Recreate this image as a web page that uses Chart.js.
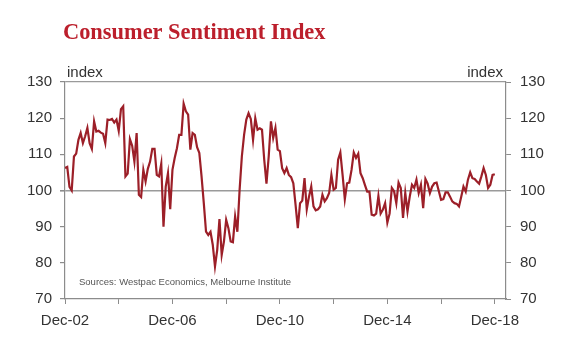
<!DOCTYPE html>
<html>
<head>
<meta charset="utf-8">
<script src="https://cdn.jsdelivr.net/npm/chart.js@4.4.1/dist/chart.umd.min.js"></script>
<style>
html,body{margin:0;padding:0;background:#fff;}
#wrap{width:580px;height:352px;}
</style>
</head>
<body>
<div id="wrap"><canvas id="c" width="580" height="352"></canvas></div>
<script>
// Monthly index, Dec-02 (index 0) to Dec-18 (index 192)
const sentiment = [
106.2,106.5,101.0,100.0,109.4,110.2,114.0,115.9,113.1,115.0,117.3,113.1,
111.5,119.1,116.3,116.5,116.0,115.7,113.1,119.6,119.5,119.8,118.8,119.6,
116.5,122.5,123.3,103.9,104.7,114.2,112.4,108.0,115.9,98.8,98.2,105.7,
102.5,106.0,108.0,111.5,111.5,104.3,103.9,107.4,90.0,101.1,104.8,94.8,
105.7,109.0,111.7,115.4,115.4,124.0,121.9,121.0,111.3,115.9,115.4,112.0,
110.4,103.9,96.5,88.6,87.7,88.6,85.0,79.0,83.6,92.1,82.2,85.9,
91.9,89.6,85.9,85.7,92.8,88.6,100.2,109.4,115.4,119.6,121.4,119.8,
114.0,120.0,116.8,117.2,116.8,108.5,101.9,109.4,119.1,114.5,117.3,111.3,
110.9,106.2,104.8,106.2,104.3,103.7,102.0,96.0,89.6,96.5,97.2,103.4,
94.8,98.3,101.1,95.6,94.5,94.8,95.6,98.8,97.0,97.9,99.3,104.3,
100.2,100.7,108.5,110.5,104.3,97.6,102.0,102.2,105.7,110.5,109.0,110.2,
104.8,103.4,101.5,99.7,99.7,93.3,93.1,93.6,98.5,93.6,94.7,96.5,
91.1,93.6,100.7,99.8,96.5,102.2,100.7,92.4,99.3,94.2,98.3,101.6,
100.7,103.0,99.3,101.6,95.1,103.2,101.9,99.3,101.1,102.0,102.2,99.8,
97.4,97.6,99.5,99.5,98.3,97.0,96.5,96.3,95.6,98.3,101.1,99.7,
103.0,105.0,103.4,103.2,102.5,101.9,103.9,106.2,104.3,100.7,101.6,104.3,
104.5
];
const tickLabels = ['Dec-02','Dec-06','Dec-10','Dec-14','Dec-18'];
const yTicks = [70,80,90,100,110,120,130];
const titleText = 'Consumer Sentiment Index';
const axisUnit = 'index';
const sourceText = 'Sources: Westpac Economics, Melbourne Institute';

const points = sentiment.map((v,i)=>({x:i,y:v}));
const FONT = '"Liberation Sans", Arial, sans-serif';
const GRAY = '#8c8c8c';
const TXT = '#333333';

const textPlugin = {
  id:'texts',
  afterDraw(chart){
    const ctx = chart.ctx, a = chart.chartArea;
    ctx.save();
    ctx.fillStyle = '#BC1F2C';
    ctx.font = 'bold 22.4px "Liberation Serif", "Times New Roman", serif';
    ctx.textBaseline = 'alphabetic';
    ctx.textAlign = 'left';
    ctx.fillText(titleText, 63, 39);
    ctx.fillStyle = TXT;
    ctx.font = '15px ' + FONT;
    ctx.textBaseline = 'bottom';
    ctx.textAlign = 'left';
    ctx.fillText(axisUnit, a.left + 2, a.top - 2);
    ctx.textAlign = 'right';
    ctx.fillText(axisUnit, a.right - 3, a.top - 2);
    ctx.fillStyle = '#555';
    ctx.font = '9.5px ' + FONT;
    ctx.textAlign = 'left';
    ctx.textBaseline = 'middle';
    ctx.fillText(sourceText, 79, 282);
    ctx.restore();
  }
};

new Chart(document.getElementById('c'), {
  type:'line',
  data:{datasets:[{
    data:points,
    borderColor:'#9C1F28',
    borderWidth:2.2,
    pointRadius:0,
    tension:0,
    fill:false,
    yAxisID:'y'
  },{
    data:points,
    borderColor:'rgba(0,0,0,0)',
    borderWidth:0,
    pointRadius:0,
    yAxisID:'y2'
  }]},
  options:{
    responsive:false,
    animation:false,
    events:[],
    layout:{padding:{top:82,left:0,right:0,bottom:0}},
    plugins:{legend:{display:false},tooltip:{enabled:false},title:{display:false}},
    scales:{
      x:{
        type:'linear', min:0, max:197,
        afterBuildTicks(ax){ ax.ticks = [0,24,48,72,96,120,144,168,192].map(v=>({value:v})); },
        afterFit(ax){ ax.height = 53; },
        ticks:{
          autoSkip:false, maxRotation:0, padding:8,
          color:TXT, font:{family:FONT,size:15},
          callback:(v)=> v%48===0 ? tickLabels[v/48] : ''
        },
        grid:{drawOnChartArea:false, tickLength:5, tickColor:GRAY, color:GRAY},
        border:{display:true, color:GRAY, width:1.2}
      },
      y:{
        position:'left', min:70, max:130,
        afterBuildTicks(ax){ ax.ticks = yTicks.map(v=>({value:v})); },
        afterFit(ax){ ax.width = 65; },
        ticks:{color:TXT, font:{family:FONT,size:15}, padding:8},
        grid:{
          tickLength:5, tickColor:GRAY,
          color:(c)=> (c.tick && (c.tick.value===100 || c.tick.value===130)) ? '#9a9a9a' : 'rgba(0,0,0,0)',
          lineWidth:(c)=> (c.tick && c.tick.value===100) ? 1.6 : 1.2
        },
        border:{display:true, color:GRAY, width:1.2}
      },
      y2:{
        position:'right', min:70, max:130,
        afterBuildTicks(ax){ ax.ticks = yTicks.map(v=>({value:v})); },
        afterFit(ax){ ax.width = 74; },
        ticks:{color:TXT, font:{family:FONT,size:15}, padding:9},
        grid:{drawOnChartArea:false, tickLength:5, tickColor:GRAY, color:GRAY},
        border:{display:true, color:GRAY, width:1.2}
      }
    }
  },
  plugins:[textPlugin]
});
</script>
</body>
</html>
